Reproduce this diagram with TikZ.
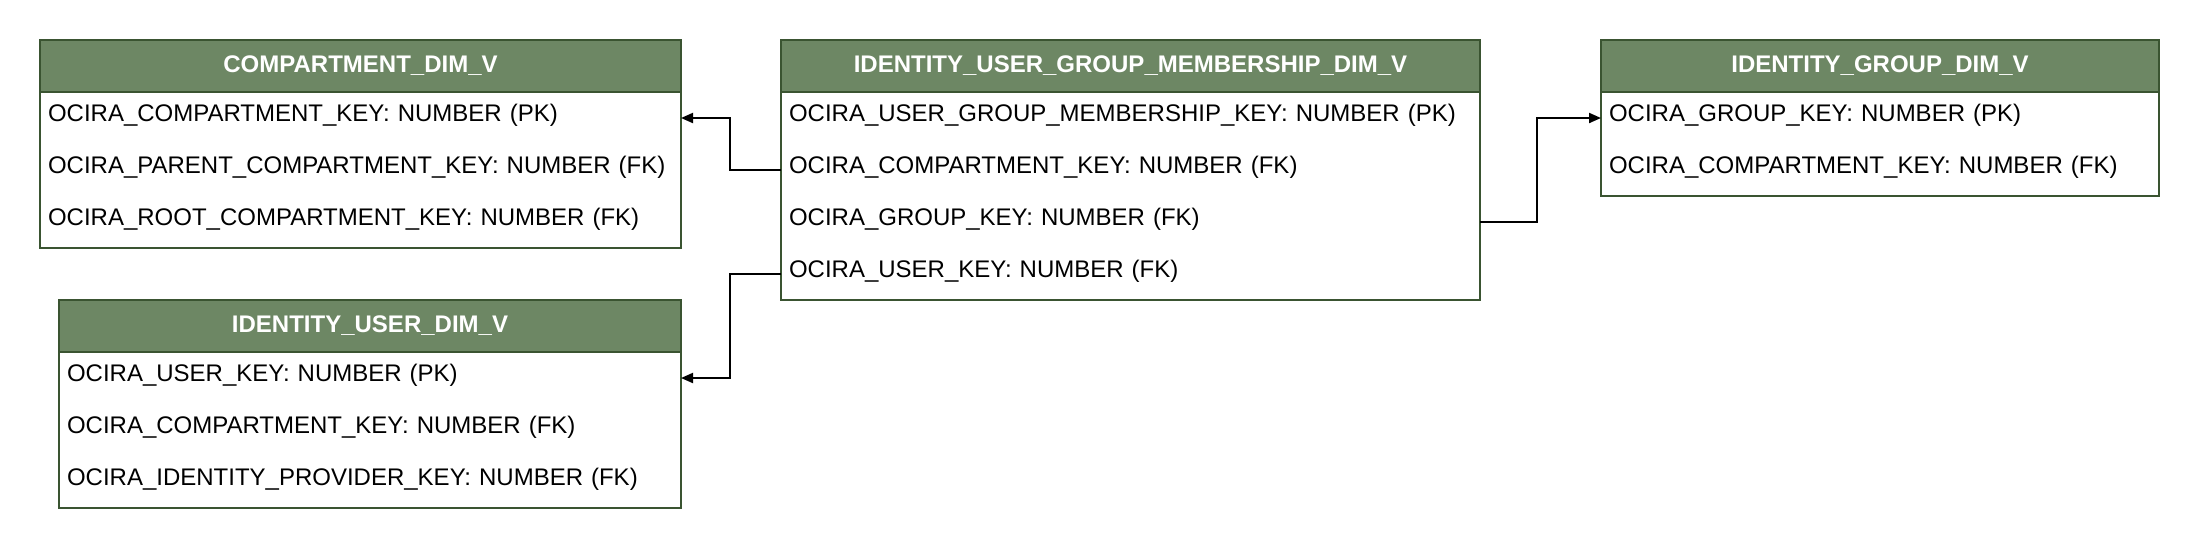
\documentclass[tikz,border=0pt]{standalone}
\usepackage{fontspec}
\setmainfont{Liberation Sans}
\usetikzlibrary{positioning,arrows.meta}
\definecolor{hdrgreen}{HTML}{6D8764}
\definecolor{hdrline}{HTML}{3A5431}
\tikzset{
  tblhead/.style={draw=hdrline,fill=hdrgreen,text=white,font=\fontsize{12}{14}\selectfont\bfseries,
    line width=1pt,minimum height=26pt,text width=#1,align=center,inner xsep=4pt,inner ysep=0pt,
    outer sep=0pt,anchor=north west},
  tblrow/.style={minimum height=26pt,text width=#1,align=left,inner xsep=4pt,
    inner ysep=0pt,outer sep=0pt,text depth=5pt},
  tblline/.style={draw=hdrline,line width=1pt},
  fk/.style={line width=1pt,-{Triangle[length=6pt,width=5pt]}}
}
\begin{document}
\begin{tikzpicture}[x=0.5pt,y=-0.5pt,font=\fontsize{12}{14}\selectfont]
  \useasboundingbox (0,0) rectangle (2200,548);

  \node[tblhead=312.5pt] (cmph) at (40,40) {COMPARTMENT\_DIM\_V};
  \node[tblrow=312.5pt,below=0pt of cmph] (cmp1) {OCIRA\_COMPARTMENT\_KEY: NUMBER (PK)};
  \node[tblrow=312.5pt,below=0pt of cmp1] (cmp2) {OCIRA\_PARENT\_COMPARTMENT\_KEY: NUMBER (FK)};
  \node[tblrow=312.5pt,below=0pt of cmp2] (cmp3) {OCIRA\_ROOT\_COMPARTMENT\_KEY: NUMBER (FK)};
  \draw[tblline] (cmp1.north west) rectangle (cmp3.south east);

  \node[tblhead=303pt] (usrh) at (59,300) {IDENTITY\_USER\_DIM\_V};
  \node[tblrow=303pt,below=0pt of usrh] (usr1) {OCIRA\_USER\_KEY: NUMBER (PK)};
  \node[tblrow=303pt,below=0pt of usr1] (usr2) {OCIRA\_COMPARTMENT\_KEY: NUMBER (FK)};
  \node[tblrow=303pt,below=0pt of usr2] (usr3) {OCIRA\_IDENTITY\_PROVIDER\_KEY: NUMBER (FK)};
  \draw[tblline] (usr1.north west) rectangle (usr3.south east);

  \node[tblhead=341.5pt] (ugmh) at (781,40) {IDENTITY\_USER\_GROUP\_MEMBERSHIP\_DIM\_V};
  \node[tblrow=341.5pt,below=0pt of ugmh] (ugm1) {OCIRA\_USER\_GROUP\_MEMBERSHIP\_KEY: NUMBER (PK)};
  \node[tblrow=341.5pt,below=0pt of ugm1] (ugm2) {OCIRA\_COMPARTMENT\_KEY: NUMBER (FK)};
  \node[tblrow=341.5pt,below=0pt of ugm2] (ugm3) {OCIRA\_GROUP\_KEY: NUMBER (FK)};
  \node[tblrow=341.5pt,below=0pt of ugm3] (ugm4) {OCIRA\_USER\_KEY: NUMBER (FK)};
  \draw[tblline] (ugm1.north west) rectangle (ugm4.south east);

  \node[tblhead=271pt] (grph) at (1601,40) {IDENTITY\_GROUP\_DIM\_V};
  \node[tblrow=271pt,below=0pt of grph] (grp1) {OCIRA\_GROUP\_KEY: NUMBER (PK)};
  \node[tblrow=271pt,below=0pt of grp1] (grp2) {OCIRA\_COMPARTMENT\_KEY: NUMBER (FK)};
  \draw[tblline] (grp1.north west) rectangle (grp2.south east);

  \draw[fk] (ugm2.west) -- ++(-51,0) |- (cmp1.east);
  \draw[fk] (ugm4.west) -- ++(-51,0) |- (usr1.east);
  \draw[fk] (ugm3.east) -- ++(57,0) |- (grp1.west);
\end{tikzpicture}
\end{document}
